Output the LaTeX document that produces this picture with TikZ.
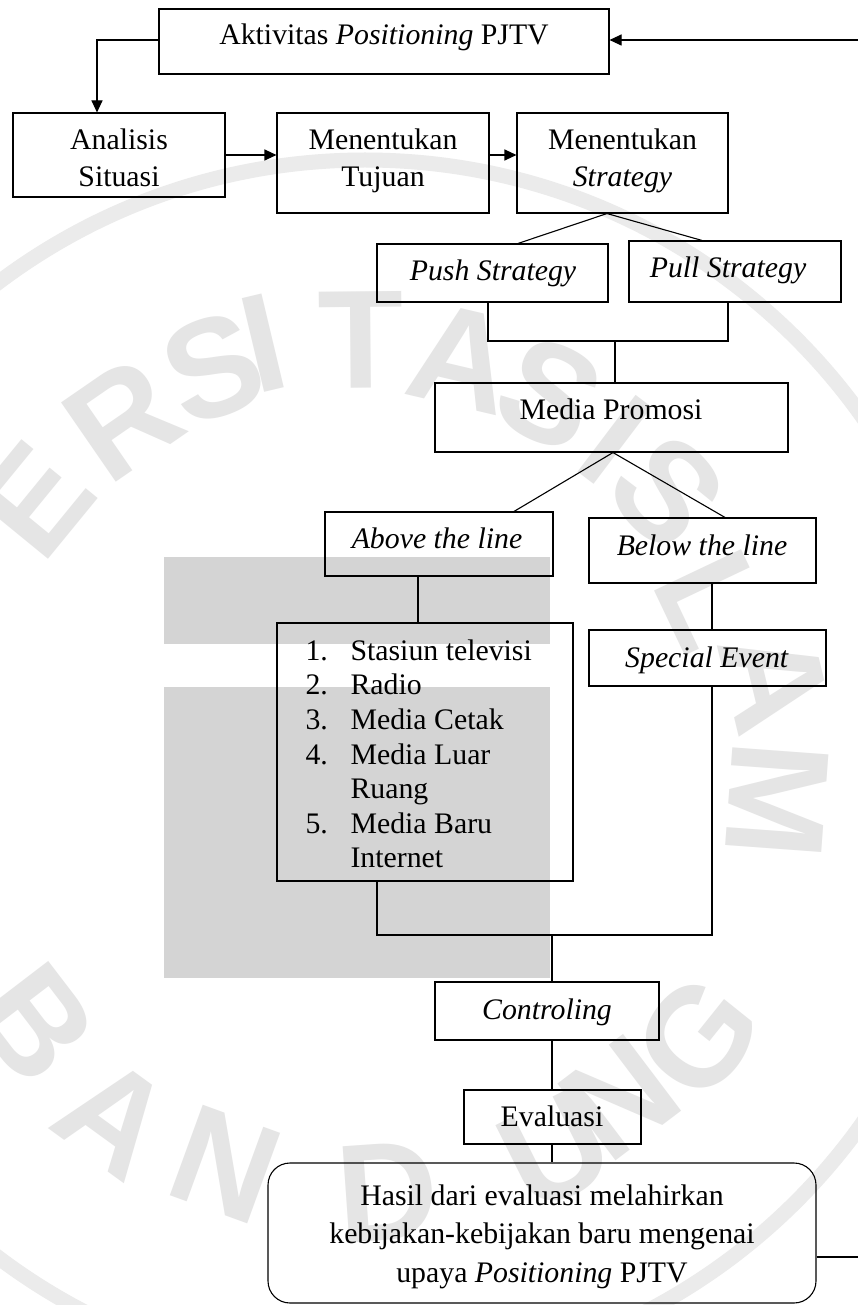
\documentclass[tikz,border=0pt]{standalone}
\usepackage{fontspec}
\setmainfont{Liberation Serif}
\newfontfamily\markfont{Liberation Sans}
\usetikzlibrary{arrows.meta}
\begin{document}
\begin{tikzpicture}[x=1pt,y=-1pt,
  line width=1.1pt,
  box/.style={draw, rectangle, inner sep=0pt},
  lbl/.style={anchor=base, inner sep=0pt, font=\fontsize{29.8}{34.5}\selectfont},
  item/.style={lbl, anchor=base west},
  tip/.style={-{Triangle[length=12pt,width=11pt]}},
  wmark/.style={text=black!10, font=\markfont\bfseries\fontsize{140}{140}\selectfont, inner sep=0pt},
  wring/.style={draw=black!8, line width=15pt},
  wblock/.style={fill=black!17, draw=none},
]
\useasboundingbox (0,0) rectangle (858,1305);
\fill[white] (0,0) rectangle (858,1305);

% faint seal in the background: outer ring, lettering and two blocks
\coordinate (wm) at (365,770);
\draw[wring] (wm) circle[radius=610pt];
\foreach \ch/\px/\py/\rot [count=\k] in {E/35/500/50.7, R/123/419/34.6, S/213/368/20.7,
    I/263/343/13.4, T/361/340/0.5, A/462/358/-13.2, S/550/394/-26.2,
    I/615/440/-37.1, S/668/492/-46.8, L/712/600/-64.6, A/775/680/-76.5, M/777/800/-94.2,
    B/35/1023/-52.6, A/115/1117/-36, N/225/1165/-20, D/388/1192/4,
    U/555/1150/26.6, N/620/1098/37.1, G/698/1037/51.3}
  \node[wmark, rotate=\rot] (wl\k) at (\px,\py) {\ch};
\fill[wblock] (164,557) rectangle (550,644);
\fill[wblock] (164,687) rectangle (550,978);

% boxes
\node[box, minimum width=450pt, minimum height=65pt] (top) at (384,41.5) {};
\node[box, minimum width=212pt, minimum height=84pt] (ana) at (119,155) {};
\node[box, minimum width=212pt, minimum height=100pt] (tuj) at (383,163) {};
\node[box, minimum width=211pt, minimum height=100pt] (str) at (622.5,163) {};
\node[box, minimum width=231pt, minimum height=58pt] (push) at (492.5,273) {};
\node[box, minimum width=212pt, minimum height=61pt] (pull) at (735,271.5) {};
\node[box, minimum width=353pt, minimum height=69pt] (media) at (611.5,417.5) {};
\node[box, minimum width=228pt, minimum height=64pt] (above) at (439,544) {};
\node[box, minimum width=227pt, minimum height=65pt] (below) at (702.5,550.5) {};
\node[box, minimum width=296pt, minimum height=258pt] (list) at (425,752) {};
\node[box, minimum width=237pt, minimum height=56pt] (special) at (707.5,658) {};
\node[box, minimum width=224pt, minimum height=58pt] (ctrl) at (547,1011) {};
\node[box, minimum width=177pt, minimum height=54pt] (eval) at (552.5,1117) {};
\node[box, rounded corners=22pt, minimum width=548pt, minimum height=140pt] (hasil) at (542,1233) {};

% texts
\node[lbl] (t-top) at (384,45) {Aktivitas \textit{Positioning} PJTV};
\node[lbl] (t-ana1) at (119,150) {Analisis};
\node[lbl] (t-ana2) at (119,187) {Situasi};
\node[lbl] (t-tuj1) at (383,150) {Menentukan};
\node[lbl] (t-tuj2) at (383,187) {Tujuan};
\node[lbl] (t-str1) at (622.5,150) {Menentukan};
\node[lbl] (t-str2) at (622.5,187) {\textit{Strategy}};
\node[lbl] (t-push) at (493,281) {\textit{Push Strategy}};
\node[lbl] (t-pull) at (728,278) {\textit{Pull Strategy}};
\node[lbl] (t-media) at (611,419) {Media Promosi};
\node[lbl] (t-above) at (437,548) {\textit{Above the line}};
\node[lbl] (t-below) at (702,555) {\textit{Below the line}};
\node[lbl] (t-special) at (707,667) {\textit{Special Event}};
\node[item] (n1) at (305,660) {1.};
\node[item] (n2) at (305,694) {2.};
\node[item] (n3) at (305,729) {3.};
\node[item] (n4) at (305,764) {4.};
\node[item] (n5) at (305,833) {5.};
\node[item] (i1) at (350,660) {Stasiun televisi};
\node[item] (i2) at (350,694) {Radio};
\node[item] (i3) at (350,729) {Media Cetak};
\node[item] (i4a) at (350,764) {Media Luar};
\node[item] (i4b) at (350,798) {Ruang};
\node[item] (i5a) at (350,833) {Media Baru};
\node[item] (i5b) at (350,867) {Internet};
\node[lbl] (t-ctrl) at (547,1019) {\textit{Controling}};
\node[lbl] (t-eval) at (552,1126) {Evaluasi};
\node[lbl] (t-h1) at (542,1205) {Hasil dari evaluasi melahirkan};
\node[lbl] (t-h2) at (542,1243) {kebijakan-kebijakan baru mengenai};
\node[lbl] (t-h3) at (542,1282) {upaya \textit{Positioning} PJTV};

% connectors
\coordinate (a-top) at ([yshift=1.5pt]top.west);
\draw[tip] (a-top) -| ([xshift=-22pt]ana.north);
\draw[tip] (ana.east) -- (ana.east -| tuj.west);
\coordinate (a-tuj) at ([yshift=8pt]tuj.east);
\draw[tip] (a-tuj) -- (a-tuj -| str.west);

\coordinate (s-apex) at ([xshift=-15.5pt]str.south);
\draw (s-apex) -- ([xshift=25.5pt]push.north);
\draw (s-apex) -- ([xshift=-33pt]pull.north);

\coordinate (pp-join) at (615,341);
\draw ([xshift=-4.5pt]push.south) |- (pp-join) -| ([xshift=-7pt]pull.south);
\draw (pp-join) -- (pp-join |- media.north);

\coordinate (m-apex) at ([xshift=1.5pt]media.south);
\draw (m-apex) -- ([xshift=75pt]above.north);
\draw (m-apex) -- ([xshift=22.5pt]below.north);

\draw ([xshift=-21pt]above.south) -- ([xshift=-21pt]above.south |- list.north);
\draw ([xshift=9.5pt]below.south) -- ([xshift=9.5pt]below.south |- special.north);

\coordinate (ls-join) at (552,935);
\draw ([xshift=-48pt]list.south) |- (ls-join) -| ([xshift=4.5pt]special.south);
\draw (ls-join) -- (ls-join |- ctrl.north);
\draw (ls-join |- ctrl.south) -- (ls-join |- eval.north);
\draw (ls-join |- eval.south) -- (ls-join |- hasil.north);

% feedback loop along the right margin
\coordinate (fb-low) at (861,1257);
\coordinate (fb-high) at (861,40);
\draw[tip] (hasil.east |- fb-low) -- (fb-low) -- (fb-high) -- (fb-high -| top.east);
\end{tikzpicture}
\end{document}
